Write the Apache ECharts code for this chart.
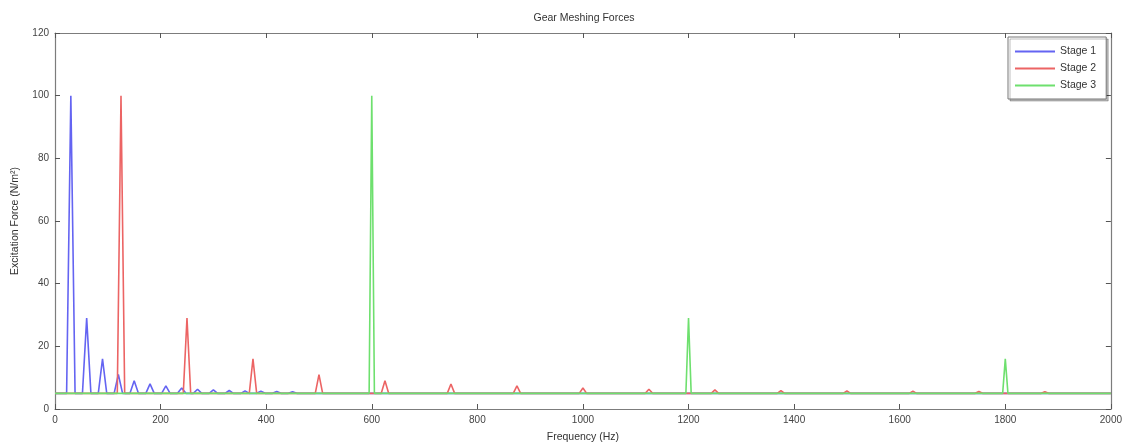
<!DOCTYPE html>
<html>
<head>
<meta charset="utf-8">
<title>Gear Meshing Forces</title>
<script src="https://cdn.jsdelivr.net/npm/echarts@6/dist/echarts.min.js"></script>
<style>
  html, body { margin: 0; padding: 0; background: #ffffff; }
  #chart { width: 1125px; height: 448px; }
</style>
</head>
<body>
<div id="chart"></div>
<script>
// Spectrum floor shared by all three stages (N/m²)
const BASELINE = 5;

// Stage 1 mesh harmonics (Hz) and their excitation force (N/m²)
const stage1Freq = [30, 60, 90, 120, 150, 180, 210, 240, 270, 300, 330, 360, 390, 420, 450];
const stage1Amp  = [100, 29, 16, 11, 9, 8, 7.4, 6.7, 6.3, 6.1, 5.9, 5.8, 5.7, 5.6, 5.5];

// Stage 2 mesh harmonics
const stage2Freq = [125, 250, 375, 500, 625, 750, 875, 1000, 1125, 1250, 1375, 1500, 1625, 1750, 1875];
const stage2Amp  = [100, 29, 16, 11, 9, 8, 7.4, 6.7, 6.3, 6.1, 5.9, 5.8, 5.7, 5.6, 5.5];

// Stage 3 mesh harmonics
const stage3Freq = [600, 1200, 1800];
const stage3Amp  = [100, 29, 16];

const seriesNames = ['Stage 1', 'Stage 2', 'Stage 3'];
const xTicks = { min: 0, max: 2000, interval: 200 };
const yTicks = { min: 0, max: 120, interval: 20 };

// Each harmonic is drawn as a narrow spike rising from the floor
function spectrum(freqs, amps, halfWidth) {
  const pts = [[xTicks.min, BASELINE]];
  freqs.forEach((f, i) => {
    pts.push([f - halfWidth, BASELINE]);
    pts.push([f, amps[i]]);
    pts.push([f + halfWidth, BASELINE]);
  });
  pts.push([xTicks.max, BASELINE]);
  return pts;
}

const FONT = 'Liberation Sans, Arial, sans-serif';
const axisColor = '#7c7c7c';
const labelStyle = { color: '#444', fontSize: 10, fontFamily: FONT, formatter: v => String(v) };

function xAxisDef(pos, showLabel) {
  return {
    type: 'value', position: pos, min: xTicks.min, max: xTicks.max, interval: xTicks.interval,
    name: showLabel ? 'Frequency (Hz)' : '', nameLocation: 'middle', nameGap: 23,
    nameTextStyle: { color: '#333', fontSize: 10.5, fontFamily: FONT },
    axisLine: { show: true, onZero: false, lineStyle: { color: axisColor, width: 1.2 } },
    axisTick: { show: true, inside: true, length: 5, lineStyle: { color: '#555', width: 1 } },
    axisLabel: Object.assign({ show: showLabel, margin: 6 }, labelStyle),
    splitLine: { show: false }
  };
}
function yAxisDef(pos, showLabel) {
  return {
    type: 'value', position: pos, min: yTicks.min, max: yTicks.max, interval: yTicks.interval,
    name: showLabel ? 'Excitation Force (N/m²)' : '', nameLocation: 'middle', nameGap: 34,
    nameTextStyle: { color: '#333', fontSize: 10.5, fontFamily: FONT },
    axisLine: { show: true, onZero: false, lineStyle: { color: axisColor, width: 1.2 } },
    axisTick: { show: true, inside: true, length: 5, lineStyle: { color: '#555', width: 1 } },
    axisLabel: Object.assign({ show: showLabel, margin: 6 }, labelStyle),
    splitLine: { show: false }
  };
}

const colors = ['#6464f2', '#ec6464', '#6ee06e'];
const halfWidths = [8, 7, 5];
const freqs = [stage1Freq, stage2Freq, stage3Freq];
const amps = [stage1Amp, stage2Amp, stage3Amp];

const chart = echarts.init(document.getElementById('chart'), null, { renderer: 'canvas' });
chart.setOption({
  animation: false,
  backgroundColor: '#ffffff',
  title: {
    text: 'Gear Meshing Forces',
    left: 584, top: 13, padding: 0, textAlign: 'center',
    textStyle: { color: '#333', fontSize: 10.5, fontWeight: 'normal', fontFamily: FONT }
  },
  legend: {
    data: seriesNames,
    orient: 'vertical',
    left: 1008, top: 37,
    padding: [9, 10, 8, 7],
    itemGap: 6,
    itemWidth: 40, itemHeight: 2,
    icon: 'rect',
    backgroundColor: '#ffffff',
    borderColor: '#777', borderWidth: 1, borderRadius: 0,
    shadowColor: 'rgba(0,0,0,0.25)', shadowOffsetX: 2, shadowOffsetY: 2, shadowBlur: 0,
    textStyle: { color: '#333', fontSize: 10.5, fontFamily: FONT }
  },
  grid: { left: 55, right: 12, top: 33, bottom: 34, containLabel: false },
  xAxis: [xAxisDef('bottom', true), xAxisDef('top', false)],
  yAxis: [yAxisDef('left', true), yAxisDef('right', false)],
  series: seriesNames.map((name, i) => ({
    name: name,
    type: 'line',
    xAxisIndex: 0, yAxisIndex: 0,
    data: spectrum(freqs[i], amps[i], halfWidths[i]),
    showSymbol: false,
    symbol: 'none',
    color: colors[i],
    lineStyle: { color: colors[i], width: 1.6 },
    z: 2 + i
  }))
});
</script>
</body>
</html>
